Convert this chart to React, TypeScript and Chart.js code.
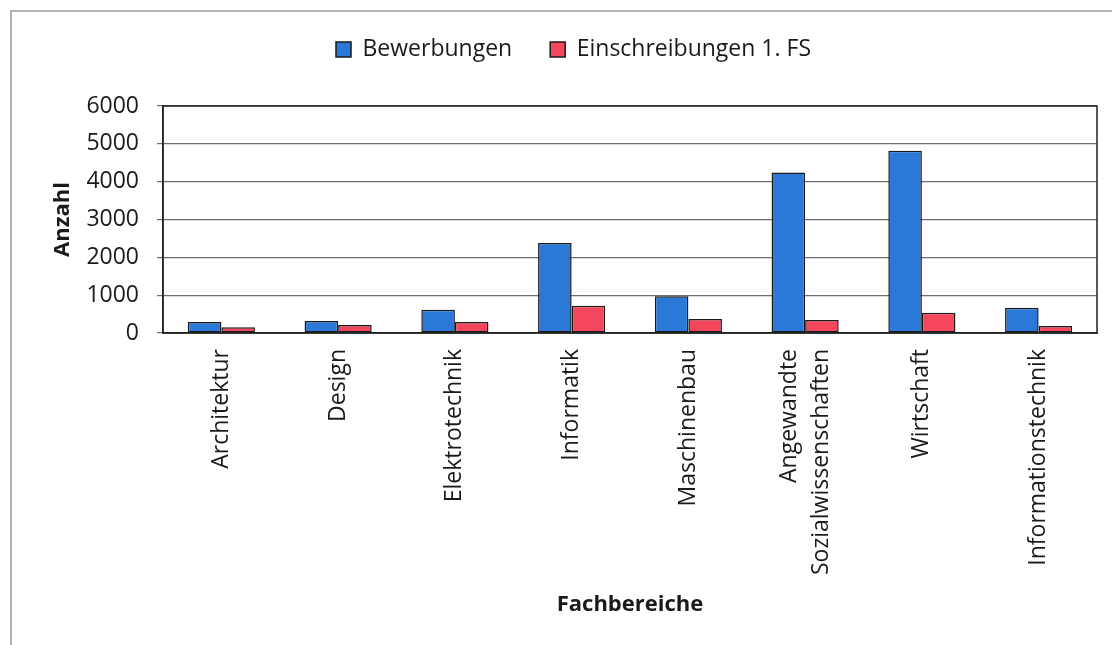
import React, { useEffect, useRef } from "react";
import { Chart, registerables } from "chart.js";

Chart.register(...registerables);

const categories: (string | string[])[] = [
  "Architektur",
  "Design",
  "Elektrotechnik",
  "Informatik",
  "Maschinenbau",
  ["Angewandte", "Sozialwissenschaften"],
  "Wirtschaft",
  "Informationstechnik",
];

const bewerbungen = [290, 315, 613, 2376, 974, 4245, 4816, 666];
const einschreibungen = [150, 210, 290, 718, 368, 342, 534, 184];

const yTicks = [0, 1000, 2000, 3000, 4000, 5000, 6000];

const FONT = "'Open Sans', Lato, sans-serif";
const TEXT = "#1a1a1a";
const TICK_SIZE = 23;
const TICK_LH = 1.4;

const framePlugin = {
  id: "frame",
  beforeLayout(chart: any) {
    const lg = chart.legend;
    if (lg && !lg._patchedFit) {
      const orig = lg.fit.bind(lg);
      lg.fit = function () {
        orig();
        this.height += 35;
      };
      lg._patchedFit = true;
    }
  },
  beforeDraw(chart: any) {
    const ctx = chart.ctx;
    ctx.save();
    ctx.fillStyle = "#ffffff";
    ctx.fillRect(0, 0, chart.width, chart.height);
    ctx.strokeStyle = "#9a9a9a";
    ctx.lineWidth = 1.5;
    ctx.beginPath();
    ctx.moveTo(11, chart.height + 5);
    ctx.lineTo(11, 11);
    ctx.lineTo(chart.width + 5, 11);
    ctx.stroke();
    ctx.restore();
    // center multi-line rotated category labels on their tick
    const xs = chart.scales.x;
    if (xs && !xs._centeredLabels) {
      const items = xs.getLabelItems(chart.chartArea);
      items.forEach((it: any) => {
        if (Array.isArray(it.label) && it.label.length > 1) {
          const shift = ((it.label.length - 1) * TICK_SIZE * TICK_LH) / 2;
          it.options.translation = [
            it.options.translation[0] - shift,
            it.options.translation[1],
          ];
        }
      });
      xs._centeredLabels = true;
    }
  },
  afterDatasetsDraw(chart: any) {
    const { ctx, chartArea } = chart;
    ctx.save();
    ctx.strokeStyle = "#222222";
    ctx.lineWidth = 1.5;
    ctx.strokeRect(
      chartArea.left,
      chartArea.top,
      chartArea.right - chartArea.left,
      chartArea.bottom - chartArea.top
    );
    ctx.restore();
  },
};

export default function App() {
  const ref = useRef<HTMLCanvasElement | null>(null);

  useEffect(() => {
    if (!ref.current) return;
    const chart = new Chart(ref.current, {
      type: "bar",
      data: {
        labels: categories,
        datasets: [
          {
            label: "Bewerbungen",
            data: bewerbungen,
            backgroundColor: "#2a78d8",
            borderColor: "#1a1a1a",
            borderWidth: 1.5,
            borderSkipped: false,
            categoryPercentage: 0.575,
            barPercentage: 1,
          },
          {
            label: "Einschreibungen 1. FS",
            data: einschreibungen,
            backgroundColor: "#f4465d",
            borderColor: "#1a1a1a",
            borderWidth: 1.5,
            borderSkipped: false,
            categoryPercentage: 0.575,
            barPercentage: 1,
          },
        ],
      },
      options: {
        responsive: false,
        animation: false,
        devicePixelRatio: 1,
        layout: { padding: { left: 50, right: 15, top: 0, bottom: 0 } },
        plugins: {
          legend: {
            display: true,
            position: "top",
            labels: {
              boxWidth: 15,
              boxHeight: 15,
              padding: 38,
              color: TEXT,
              font: { family: FONT, size: 23 },
            },
          },
          tooltip: { enabled: false },
        },
        scales: {
          x: {
            grid: { display: false, drawTicks: false },
            border: { display: true, color: "#222222", width: 1.5 },
            ticks: {
              color: TEXT,
              font: { family: FONT, size: TICK_SIZE, lineHeight: TICK_LH },
              minRotation: 90,
              maxRotation: 90,
              padding: 16,
              autoSkip: false,
            },
            title: {
              display: true,
              text: "Fachbereiche",
              color: TEXT,
              font: { family: FONT, size: 22, weight: "bold" },
              padding: { top: 4, bottom: 27 },
            },
            afterFit(scale: any) {
              scale.height = 645 - 333;
            },
          },
          y: {
            min: 0,
            max: 6000,
            afterBuildTicks(scale: any) {
              scale.ticks = yTicks.map((v) => ({ value: v }));
            },
            grid: {
              color: "#6e6e6e",
              lineWidth: 1.2,
              tickLength: 6,
              drawTicks: true,
            },
            border: { display: true, color: "#222222", width: 1.5 },
            ticks: {
              color: TEXT,
              font: { family: FONT, size: TICK_SIZE },
              padding: 18,
              callback: (v: any) => String(v),
            },
            title: {
              display: true,
              text: "Anzahl",
              color: TEXT,
              font: { family: FONT, size: 22, weight: "bold" },
              padding: { top: 0, bottom: 0 },
            },
            afterFit(scale: any) {
              scale.width = 113;
            },
          },
        },
      },
      plugins: [framePlugin],
    });
    return () => chart.destroy();
  }, []);

  return (
    <div
      style={{
        position: "fixed",
        left: 0,
        top: 0,
        width: 1112,
        height: 645,
        background: "#fff",
      }}
    >
      <canvas ref={ref} width={1112} height={645} />
    </div>
  );
}
